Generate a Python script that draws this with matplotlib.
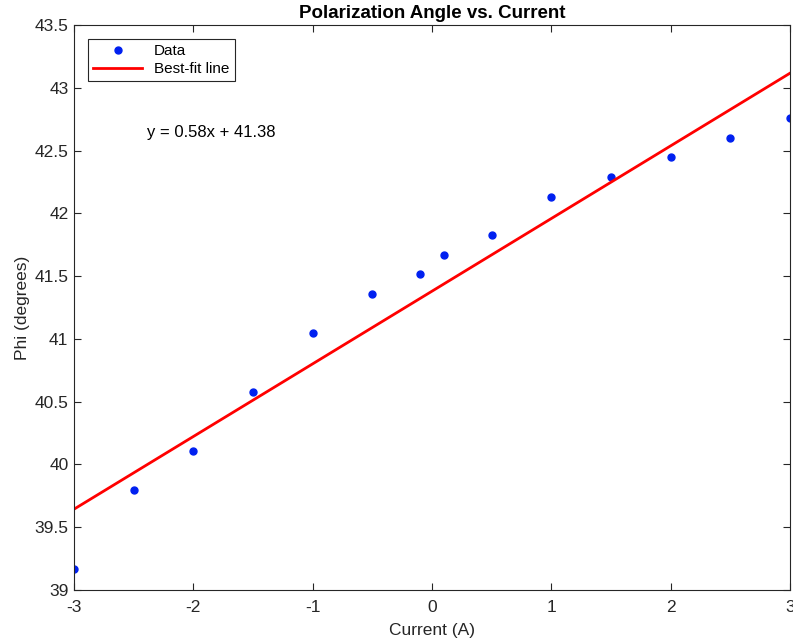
import numpy as np
import matplotlib.pyplot as plt

plt.rcParams['font.family'] = ['Liberation Sans', 'DejaVu Sans']
plt.rcParams['axes.unicode_minus'] = False

current = np.array([-3, -2.5, -2, -1.5, -1, -0.5, -0.1, 0.1, 0.5, 1, 1.5, 2, 2.5, 3])
phi = np.array([39.17, 39.80, 40.11, 40.58, 41.05, 41.36, 41.52, 41.67,
                41.83, 42.13, 42.29, 42.45, 42.60, 42.76])

# linear fit
m, b = np.polyfit(current, phi, 1)
x_fit = np.linspace(-3, 3, 100)
y_fit = m * x_fit + b

fig = plt.figure(figsize=(7.93, 6.43), dpi=100)
ax = fig.add_axes([0.0933, 0.0824, 0.9029, 0.8787])

ax.plot(current, phi, 'o', color='#0020f0', markersize=5, label='Data')
ax.plot(x_fit, y_fit, color='#ff0000', linewidth=2, label='Best-fit line')
ax.text(-2.39, 42.64, f'y = {m:.2f}x + {b:.2f}', fontsize=12, va='center')

ax.set_xlim(-3, 3)
ax.set_ylim(39, 43.5)
ax.set_xticks(np.arange(-3, 4, 1))
ax.set_yticks(np.arange(39, 43.6, 0.5))
ax.set_yticklabels(['39', '39.5', '40', '40.5', '41', '41.5', '42', '42.5', '43', '43.5'])

dark = '#262626'
for s in ax.spines.values():
    s.set_color(dark)
    s.set_linewidth(0.8)
ax.tick_params(direction='in', top=True, right=True, labelsize=12.5, colors=dark,
               length=5, width=0.8)
ax.tick_params(axis='x', pad=7)
ax.tick_params(axis='y', pad=4)

ax.set_xlabel('Current (A)', fontsize=12.5, color=dark, labelpad=6)
ax.set_ylabel('Phi (degrees)', fontsize=12.5, color=dark, labelpad=3)
ax.set_title('Polarization Angle vs. Current', fontsize=13.5, fontweight='bold', pad=5)

leg = ax.legend(loc='upper left', fontsize=11, fancybox=False, framealpha=1,
                edgecolor=dark, borderaxespad=0.9, handlelength=3.2,
                borderpad=0.35, labelspacing=0.25)
leg.get_frame().set_linewidth(0.8)

fig.savefig('out.png', dpi=100)
